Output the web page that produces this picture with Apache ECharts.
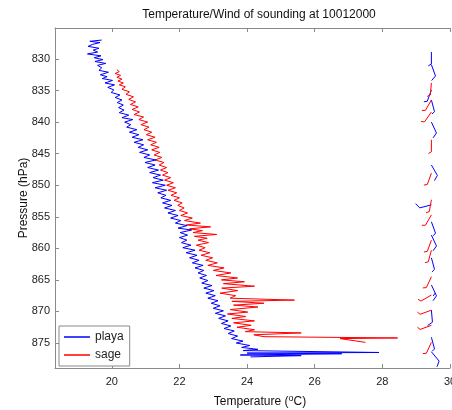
<!DOCTYPE html>
<html><head><meta charset="utf-8">
<script src="https://cdn.jsdelivr.net/npm/echarts@6/dist/echarts.min.js"></script>
<style>html,body{margin:0;padding:0;background:#fff}#c{width:452px;height:410px}</style>
</head><body><div id="c"></div>
<script>
// ---------- data ----------
const playaT = [19.70,19.35,19.65,19.42,19.30,19.62,19.45,19.58,19.28,19.68,19.48,19.74,19.50,19.82,19.58,19.70,19.62,19.90,19.66,19.86,
19.72,20.02,19.80,20.08,19.88,20.06,19.98,20.24,20.10,20.30,20.16,20.34,20.20,20.36,20.22,20.50,20.30,20.62,20.38,20.56,
20.44,20.74,20.52,20.80,20.60,20.92,20.66,20.94,20.78,21.06,20.82,21.12,20.95,21.30,20.98,21.28,21.06,21.38,21.12,21.44,
21.22,21.52,21.20,21.58,21.28,21.62,21.36,21.60,21.45,21.74,21.50,21.78,21.56,21.88,21.66,21.96,21.74,22.04,21.88,22.22,
21.96,22.36,22.02,22.24,22.00,22.22,22.06,22.34,22.10,22.46,22.20,22.52,22.30,22.58,22.38,22.70,22.46,22.72,22.55,22.80,
22.60,22.84,22.66,22.96,22.72,23.02,22.78,23.06,22.84,23.14,22.94,23.20,23.00,23.30,23.06,23.36,23.16,23.44,23.24,23.52,
23.32,23.62,23.44,23.72,23.54,23.88,23.68,24.08,23.84,24.32,23.88,27.90,24.00,26.80,23.80,25.60,24.10];
const playaP = [827.0,827.2,827.4,827.7,828.0,828.3,828.6,828.9,829.2,829.5,829.8,830.1,830.4,830.7,831.0,831.4,831.8,832.1,832.5,832.8,
833.1,833.4,833.8,834.1,834.5,834.9,835.3,835.7,836.1,836.5,836.9,837.3,837.7,838.1,838.5,838.9,839.3,839.6,840.0,840.4,
840.8,841.2,841.6,842.0,842.4,842.8,843.2,843.6,844.0,844.4,844.8,845.2,845.6,846.0,846.4,846.8,847.2,847.6,848.0,848.4,
848.8,849.2,849.6,850.0,850.4,850.8,851.2,851.6,852.0,852.4,852.8,853.2,853.6,854.0,854.4,854.8,855.2,855.6,856.0,856.4,
856.8,857.1,857.5,857.9,858.3,858.7,859.1,859.5,859.9,860.3,860.7,861.1,861.5,861.9,862.3,862.7,863.1,863.5,863.9,864.3,
864.7,865.1,865.5,865.9,866.3,866.7,867.1,867.5,867.9,868.3,868.7,869.1,869.5,869.9,870.3,870.7,871.1,871.5,871.9,872.3,
872.7,873.1,873.5,873.9,874.3,874.7,875.0,875.4,875.7,876.0,876.2,876.5,876.6,876.7,876.9,877.0,877.2];

const sageT = [20.15,20.22,20.10,20.26,20.15,20.30,20.18,20.34,20.22,20.40,20.30,20.52,20.42,20.64,20.50,20.70,20.55,20.78,20.60,20.82,
20.66,20.94,20.80,21.06,20.86,21.10,20.95,21.18,21.02,21.28,21.06,21.32,21.15,21.40,21.18,21.42,21.25,21.48,21.28,21.54,
21.40,21.62,21.44,21.66,21.50,21.74,21.56,21.82,21.62,21.88,21.66,21.92,21.75,22.00,21.84,22.08,21.95,22.14,22.00,22.24,
22.04,22.38,22.15,22.62,22.20,22.92,22.30,22.68,22.40,23.10,22.44,22.82,22.55,22.86,22.50,22.76,22.58,22.90,22.64,22.98,
22.78,23.12,22.84,23.32,23.00,23.52,23.08,23.72,23.24,23.92,23.30,24.22,23.25,23.72,23.20,23.66,23.50,25.40,23.55,24.50,
23.60,24.32,23.50,24.02,23.42,23.96,23.55,24.22,23.60,24.12,23.70,24.22,23.95,25.60,24.20,24.50,28.45,26.75,27.50];
const sageP = [831.7,832.0,832.3,832.6,832.9,833.2,833.5,833.8,834.1,834.4,834.8,835.2,835.6,836.0,836.4,836.8,837.2,837.6,838.0,838.4,
838.8,839.2,839.6,840.0,840.4,840.8,841.2,841.6,842.0,842.4,842.8,843.2,843.6,844.0,844.4,844.8,845.2,845.6,846.0,846.4,
846.8,847.2,847.6,848.0,848.4,848.8,849.2,849.6,850.0,850.4,850.8,851.2,851.6,852.0,852.4,852.8,853.2,853.6,854.0,854.4,
854.8,855.2,855.6,856.0,856.3,856.6,856.9,857.2,857.5,857.8,858.1,858.4,858.7,859.1,859.5,859.9,860.3,860.7,861.1,861.5,
861.9,862.3,862.7,863.1,863.5,863.9,864.3,864.7,865.0,865.3,865.6,866.0,866.3,866.7,867.1,867.5,867.9,868.2,868.4,868.7,
869.0,869.3,869.7,870.1,870.4,870.8,871.1,871.5,871.8,872.2,872.5,872.9,873.2,873.4,873.7,874.0,874.2,874.3,874.9];

// wind barbs: pressure (hPa), direction (deg, from), speed (kt)
const windPlayaP   = [828.9,830.9,834.9,836.5,840.0,846.8,853.1,855.8,857.9,861.5,865.8,869.8,874.1,876.4];
const windPlayaDir = [180,160,200,165,155,150,255,160,155,165,155,175,165,140];
const windPlayaSpd = [5,10,5,5,10,10,10,5,10,5,15,10,5,10];
const windSageP    = [833.8,836.5,838.4,842.8,848.1,852.3,854.7,858.7,860.3,864.5,867.4,869.8,872.2,874.9];
const windSageDir  = [185,210,215,180,200,190,210,200,195,205,240,250,250,205];
const windSageSpd  = [5,5,5,5,5,5,5,5,5,5,5,5,5,5];

const xTicks = [20,22,24,26,28,30];
const yTicks = [830,835,840,845,850,855,860,865,870,875];
const seriesNames = ['playa','sage'];
const titleText = 'Temperature/Wind of sounding at 10012000';

// ---------- chart ----------
const FONT = '"Liberation Sans", Arial, Helvetica, sans-serif';
const BARB_T = 29.45;
const chart = echarts.init(document.getElementById('c'), null, {renderer:'canvas'});

function zip(a,b){return a.map((v,i)=>[v,b[i]]);}
function windData(P,D,S){return P.map((p,i)=>[BARB_T,p,D[i],S[i]]);}

function barbRender(color){
  return function(params, api){
    const base = api.coord([api.value(0), api.value(1)]);
    const dir = api.value(2) * Math.PI/180;
    const spd = api.value(3);
    const L = 12;
    const ux = Math.sin(dir), uy = -Math.cos(dir);
    const tip = [base[0]+ux*L, base[1]+uy*L];
    const children = [{type:'line', shape:{x1:base[0],y1:base[1],x2:tip[0],y2:tip[1]}, style:{stroke:color,lineWidth:1}}];
    let rem = spd, k = 0;
    const ba = dir + Math.PI/3;
    const bx = Math.sin(ba), by = -Math.cos(ba);
    while (rem >= 5) {
      const len = rem >= 10 ? 6 : 3.5;
      const sx = tip[0]-ux*k*3, sy = tip[1]-uy*k*3;
      children.push({type:'line', shape:{x1:sx,y1:sy,x2:sx+bx*len,y2:sy+by*len}, style:{stroke:color,lineWidth:1}});
      rem -= rem >= 10 ? 10 : 5; k++;
    }
    return {type:'group', children};
  };
}

const axisLineStyle = {color:'#8a8a8a', width:1};
const option = {
  animation:false,
  backgroundColor:'#ffffff',
  grid:{left:55, top:28, right:2, bottom:42, containLabel:false, outerBoundsMode:'none'},
  xAxis:[{
    type:'value', min:18.32, max:30, position:'bottom',
    axisLine:{show:true, onZero:false, lineStyle:axisLineStyle},
    axisTick:{show:true, inside:true, length:4, customValues:xTicks, lineStyle:axisLineStyle},
    axisLabel:{customValues:xTicks, margin:8, fontSize:11, color:'#222', fontFamily:FONT},
    splitLine:{show:false}
  },{
    type:'value', min:18.32, max:30, position:'top',
    axisLine:{show:true, onZero:false, lineStyle:axisLineStyle},
    axisTick:{show:true, inside:true, length:4, customValues:xTicks, lineStyle:axisLineStyle},
    axisLabel:{show:false}, splitLine:{show:false}
  }],
  yAxis:[{
    type:'value', inverse:true, min:825.09, max:878.96,
    axisLine:{show:true, onZero:false, lineStyle:axisLineStyle},
    axisTick:{show:true, inside:true, length:4, customValues:yTicks, lineStyle:axisLineStyle},
    axisLabel:{customValues:yTicks, margin:5, fontSize:11, color:'#222', fontFamily:FONT},
    splitLine:{show:false}
  }],
  legend:{
    data:seriesNames, orient:'vertical', left:59, top:326,
    backgroundColor:'#fff', borderColor:'#888', borderWidth:1, borderRadius:0,
    padding:[4,6,4,5], itemGap:4, itemWidth:26, itemHeight:1.5, icon:'rect',
    textStyle:{fontSize:12, color:'#222', fontFamily:FONT, lineHeight:14}
  },
  graphic:[
    {type:'text', x:259, y:15, style:{text:titleText, align:'center', verticalAlign:'middle', font:'12px '+FONT, fill:'#111'}},
    {type:'text', x:24, y:198, rotation:Math.PI/2, style:{text:'Pressure (hPa)', align:'center', verticalAlign:'middle', font:'12px '+FONT, fill:'#111'}},
    {type:'text', x:260, y:402, style:{text:'Temperature ({s|o}C)', rich:{s:{fontSize:9, padding:[0,0,7,0], fontFamily:FONT, fill:'#111'}}, align:'center', verticalAlign:'middle', font:'12px '+FONT, fill:'#111'}}
  ],
  series:[
    {name:seriesNames[0], type:'line', data:zip(playaT,playaP), symbol:'none', showSymbol:false,
     lineStyle:{color:'#0000ff', width:1}, itemStyle:{color:'#0000ff'}, z:3},
    {name:seriesNames[1], type:'line', data:zip(sageT,sageP), symbol:'none', showSymbol:false,
     lineStyle:{color:'#ff0000', width:1}, itemStyle:{color:'#ff0000'}, z:2},
    {type:'custom', data:windData(windPlayaP,windPlayaDir,windPlayaSpd), renderItem:barbRender('#0000ff'), encode:{x:0,y:1}, z:4, clip:false},
    {type:'custom', data:windData(windSageP,windSageDir,windSageSpd), renderItem:barbRender('#ff0000'), encode:{x:0,y:1}, z:4, clip:false}
  ]
};
chart.setOption(option);
</script></body></html>
